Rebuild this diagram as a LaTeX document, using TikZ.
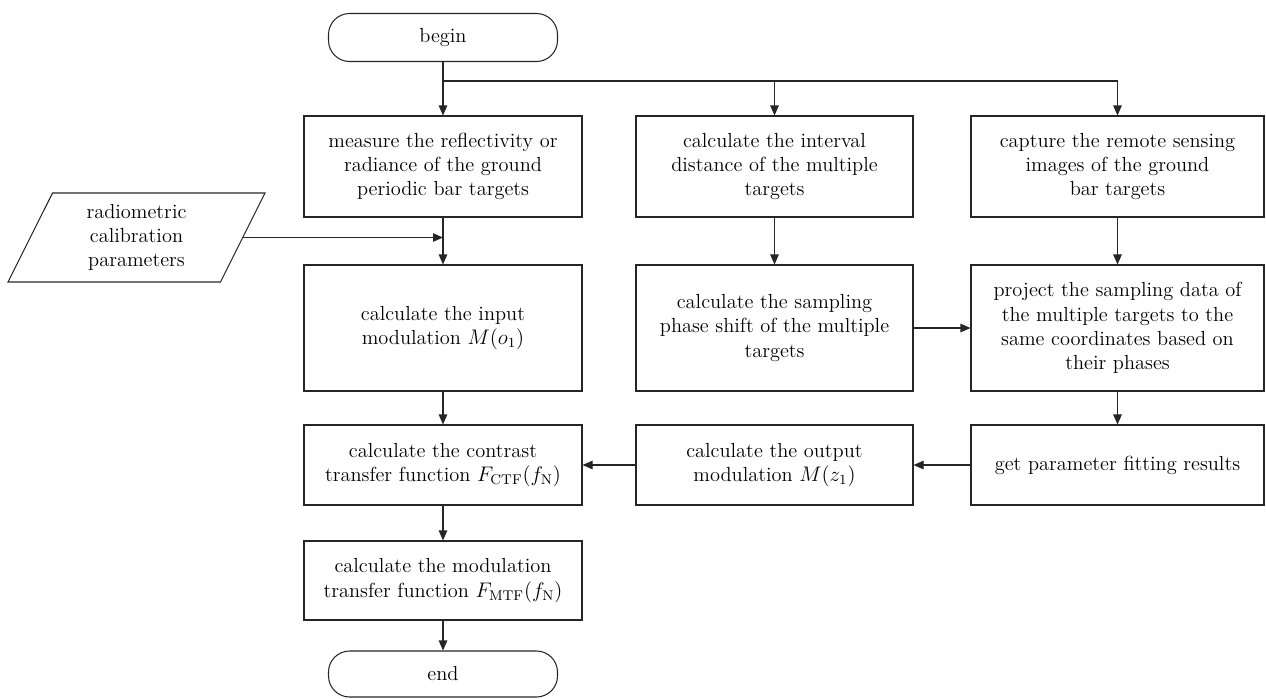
\documentclass[tikz,border=0pt]{standalone}
\usepackage{amsmath,amssymb}
\usetikzlibrary{arrows.meta,calc,positioning,shapes.geometric}

\begin{document}
\begin{tikzpicture}[
    font=\fontsize{11.6}{13.8}\selectfont,
    >={Triangle[length=2mm, width=1.7mm]},
    link/.style={draw=black!85, line width=0.6pt},
    box/.style={draw=black!85, line width=0.6pt, align=center, inner sep=3pt},
    boxa/.style={box, minimum width=5.56cm},
    boxb/.style={box, minimum width=5.54cm},
    boxc/.style={box, minimum width=5.86cm},
    term/.style={box, rounded corners=12pt, minimum width=4.58cm, minimum height=0.96cm},
    iobox/.style={box, trapezium, trapezium left angle=60, trapezium right angle=120,
        trapezium stretches body=true, minimum width=5.14cm, minimum height=1.78cm},
]
\useasboundingbox (0,0) rectangle (25.32,-13.96);
\def\xa{8.86}
\def\xb{15.49}
\def\xc{22.35}

% start and the three branches
\node[term] (begin) at (\xa,-0.75) {begin};
\coordinate (split) at (\xa,-1.62);

\node[boxa, minimum height=2.02cm] (measure) at (\xa,-3.33)
    {measure the reflectivity or\\radiance of the ground\\periodic bar targets};
\node[boxb, minimum height=2.02cm] (interval) at (\xb,-3.33)
    {calculate the interval\\distance of the multiple\\targets};
\node[boxc, minimum height=2.02cm] (capture) at (\xc,-3.33)
    {capture the remote sensing\\images of the ground\\bar targets};

\draw[link] (begin) -- (split) -- (split -| capture);
\draw[link, ->] (split) -- (measure);
\draw[link, ->] (split -| interval) -- (interval);
\draw[link, ->] (split -| capture) -- (capture);

% second row
\node[boxa, minimum height=2.52cm] (input) at (\xa,-6.56)
    {calculate the input\\modulation $M(o_1)$};
\node[boxb, minimum height=2.52cm] (phase) at (\xb,-6.56)
    {calculate the sampling\\phase shift of the multiple\\targets};
\node[boxc, minimum height=2.52cm] (project) at (\xc,-6.56)
    {project the sampling data of\\the multiple targets to the\\same coordinates based on\\their phases};

\node[iobox] (param) at (2.73,-4.75) {radiometric\\calibration\\parameters};

\draw[link, ->] (measure) -- (input);
\draw[link, ->] (param.east) -- (param.east -| measure);
\draw[link, ->] (interval) -- (phase);
\draw[link, ->] (capture) -- (project);
\draw[link, ->] (phase) -- (project);

% third row, back to the left
\node[boxa, minimum height=1.6cm] (ctf) at (\xa,-9.30)
    {calculate the contrast\\transfer function $F_{\mathrm{CTF}}(f_{\mathrm{N}})$};
\node[boxb, minimum height=1.6cm] (output) at (\xb,-9.30)
    {calculate the output\\modulation $M(z_1)$};
\node[boxc, minimum height=1.6cm] (fit) at (\xc,-9.30)
    {get parameter fitting results};

\draw[link, ->] (project) -- (fit);
\draw[link, ->] (fit) -- (output);
\draw[link, ->] (output) -- (ctf);
\draw[link, ->] (input) -- (ctf);

% last steps
\node[boxa, minimum height=1.58cm] (mtf) at (\xa,-11.61)
    {calculate the modulation\\transfer function $F_{\mathrm{MTF}}(f_{\mathrm{N}})$};
\node[term, minimum height=0.92cm] (end) at (\xa,-13.48) {end};

\draw[link, ->] (ctf) -- (mtf);
\draw[link, ->] (mtf) -- (end);
\end{tikzpicture}
\end{document}
